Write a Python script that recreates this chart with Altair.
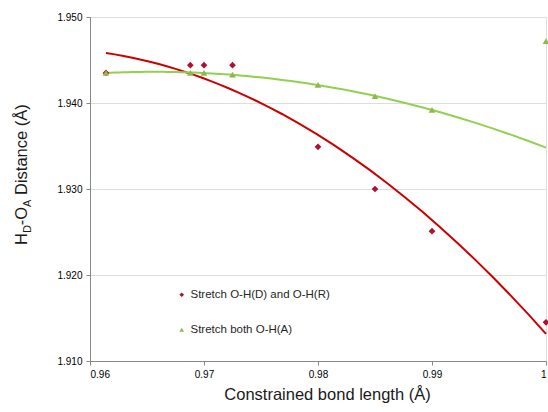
import altair as alt
import pandas as pd

# ---- data ----
red_name = "Stretch O-H(D) and O-H(R)"
green_name = "Stretch both O-H(A)"

red_x = [0.9614, 0.9688, 0.9700, 0.9725, 0.9800, 0.9850, 0.9900, 1.0000]
red_y = [1.9435, 1.9444, 1.9444, 1.9444, 1.9349, 1.9300, 1.9251, 1.9145]

green_x = [0.9614, 0.9688, 0.9700, 0.9725, 0.9800, 0.9850, 0.9900, 1.0000]
green_y = [1.9435, 1.9435, 1.9435, 1.9433, 1.9421, 1.9408, 1.9392, 1.9472]
green_in_fit = [True, True, True, True, True, True, True, False]

x_ticks = [0.96, 0.97, 0.98, 0.99, 1.0]
y_ticks = [1.91, 1.92, 1.93, 1.94, 1.95]
fit_extent = [0.9614, 1.0]

FONT = "Liberation Sans"
RED_PT = "#B01030"
RED_LN = "#CC0000"
GREEN_PT = "#8DB84A"
GREEN_LN = "#92D050"
TITLE_C = "#1a1a1a"

red_df = pd.DataFrame({"x": red_x, "y": red_y, "series": red_name, "fit": True})
green_df = pd.DataFrame({"x": green_x, "y": green_y, "series": green_name, "fit": green_in_fit})
# green drawn after red so the shared first point shows the triangle
pts_df = pd.concat([red_df, green_df], ignore_index=True)
pts_df["order"] = range(len(pts_df))

xs = alt.Scale(domain=[0.96, 1.0], nice=False, zero=False)
ys = alt.Scale(domain=[1.91, 1.95], nice=False, zero=False)

x_axis = alt.Axis(values=x_ticks, format=".2~f", grid=False, title="Constrained bond length (Å)",
                  tickSize=4, labelPadding=4, titleX=237, titleY=38, titleBaseline="alphabetic",
                  titleFont=FONT, titleFontSize=16.5, titleFontWeight="normal", titleColor=TITLE_C)
y_axis = alt.Axis(values=y_ticks, format=".3f", grid=True, title=None, tickSize=4, labelPadding=4)

red_fit = alt.Chart(red_df).transform_regression(
    "x", "y", method="poly", order=2, extent=fit_extent
).mark_line(color=RED_LN, strokeWidth=2).encode(
    x=alt.X("x:Q", scale=xs, axis=x_axis),
    y=alt.Y("y:Q", scale=ys, axis=y_axis),
)

green_fit = alt.Chart(green_df).transform_filter("datum.fit").transform_regression(
    "x", "y", method="poly", order=2, extent=fit_extent
).mark_line(color=GREEN_LN, strokeWidth=2).encode(
    x=alt.X("x:Q", scale=xs),
    y=alt.Y("y:Q", scale=ys),
)

leg = alt.Legend(title=None, orient="none", legendX=86, legendY=272,
                 symbolSize=22, rowPadding=22, labelOffset=3, padding=0,
                 labelFont=FONT, labelFontSize=11.5, labelColor="#262626")

points = alt.Chart(pts_df).mark_point(filled=True, opacity=1, size=45).encode(
    x=alt.X("x:Q", scale=xs),
    y=alt.Y("y:Q", scale=ys),
    order=alt.Order("order:Q"),
    color=alt.Color("series:N",
                    scale=alt.Scale(domain=[red_name, green_name], range=[RED_PT, GREEN_PT]),
                    legend=leg),
    shape=alt.Shape("series:N",
                    scale=alt.Scale(domain=[red_name, green_name], range=["diamond", "triangle-up"]),
                    legend=leg),
)

# y-axis title with subscripts, built from text pieces (rotated)
ty_x = -63
sub_dx = 4
title_pieces = [
    ("H", 16.5, 0, 228),
    ("D", 11, sub_dx, 216.1),
    ("-O", 16.5, 0, 208.2),
    ("A", 11, sub_dx, 189.9),
    ("Distance (Å)", 16.5, 0, 178.0),
]
title_layers = []
for txt, fs, dx, yy in title_pieces:
    title_layers.append(
        alt.Chart(pd.DataFrame({"t": [txt]})).mark_text(
            angle=270, align="left", baseline="alphabetic", font=FONT, fontSize=fs, color=TITLE_C
        ).encode(x=alt.value(ty_x + dx), y=alt.value(yy), text="t:N")
    )

chart = alt.layer(red_fit, green_fit, points, *title_layers).properties(
    width=456, height=344,
    autosize=alt.AutoSizeParams(type="none"),
    padding={"left": 90, "top": 17, "right": 2, "bottom": 51},
).configure_view(stroke=None).configure_axis(
    labelFont=FONT, labelFontSize=11.5, labelColor="#404040",
    domainColor="#8c8c8c", tickColor="#8c8c8c", gridColor="#c8c8c8",
).configure(background="white")

chart.save("out.html", embed_options={"renderer": "svg", "actions": False})
